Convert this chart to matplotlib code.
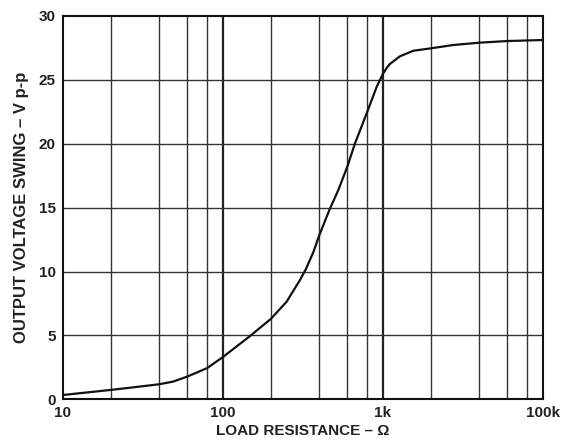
"""
Output voltage swing vs load resistance (datasheet-style curve).
"""
import matplotlib
matplotlib.use("Agg")
import matplotlib.pyplot as plt
import matplotlib.ticker as mticker

# ---------------------------------------------------------------------------
# Data
# ---------------------------------------------------------------------------
load_ohm = [10, 20, 28, 40, 49, 60, 80, 100, 148, 200, 251, 304, 331, 368,
            400, 464, 528, 600, 671, 800, 917, 1000, 1060, 1109, 1282, 1553,
            2000, 2762, 4000, 6000, 10000]
swing_vpp = [0.34, 0.74, 0.95, 1.18, 1.39, 1.78, 2.45, 3.3, 4.95, 6.3, 7.65,
             9.34, 10.2, 11.5, 12.8, 14.82, 16.39, 18.2, 20.04, 22.5, 24.47,
             25.45, 25.95, 26.25, 26.85, 27.28, 27.47, 27.73, 27.91, 28.04,
             28.12]

x_major = [10, 100, 1000, 10000]
x_major_labels = ["10", "100", "1k", "100k"]
x_minor = [20, 40, 60, 80, 200, 400, 600, 800, 2000, 4000, 6000, 8000]
y_ticks = [0, 5, 10, 15, 20, 25, 30]

# ---------------------------------------------------------------------------
# Figure
# ---------------------------------------------------------------------------
plt.rcParams.update({
    "font.family": ["Liberation Sans", "DejaVu Sans"],
    "font.weight": "bold",
})

fig = plt.figure(figsize=(5.65, 4.44), dpi=100)
ax = fig.add_axes([0.1108, 0.1005, 0.8500, 0.8635])

ax.set_xscale("log")
ax.set_xlim(10, 10000)
ax.set_ylim(0, 30)

ax.set_xticks(x_major)
ax.set_xticklabels(x_major_labels)
ax.xaxis.set_minor_locator(mticker.FixedLocator(x_minor))
ax.xaxis.set_minor_formatter(mticker.NullFormatter())
ax.set_yticks(y_ticks)

ax.tick_params(which="both", length=0, labelsize=11, colors="#222222")
ax.tick_params(axis="x", pad=5)
ax.tick_params(axis="y", pad=5)
for lab in ax.get_xticklabels() + ax.get_yticklabels():
    lab.set_fontweight("bold")

# grid: decades a bit heavier
ax.grid(which="minor", axis="x", color="#333333", linewidth=1.0)
for xv in x_major[1:-1]:
    ax.axvline(xv, color="#222222", linewidth=1.6, zorder=1)
for yv in y_ticks[1:-1]:
    ax.axhline(yv, color="#333333", linewidth=1.0, zorder=1)

for sp in ax.spines.values():
    sp.set_linewidth(1.5)
    sp.set_color("#111111")

ax.plot(load_ohm, swing_vpp, color="#111111", linewidth=1.6, zorder=3,
        solid_joinstyle="round")

ax.set_xlabel("LOAD RESISTANCE – Ω", fontsize=11, fontweight="bold",
              labelpad=3, color="#222222")
ax.set_ylabel("OUTPUT VOLTAGE SWING – V p-p", fontsize=12,
              fontweight="bold", labelpad=7, color="#222222")

fig.savefig("out.png", dpi=100)
